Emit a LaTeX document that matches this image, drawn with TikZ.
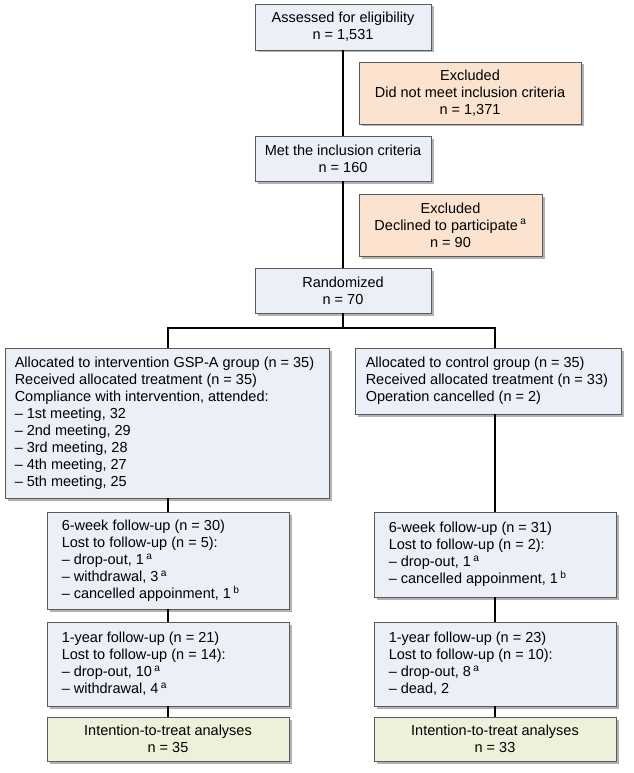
\documentclass[tikz,border=0pt]{standalone}
\usepackage{fontspec}
\setmainfont{Liberation Sans}
\usetikzlibrary{shadows}
\definecolor{boxblue}{HTML}{EAEFF8}
\definecolor{boxorange}{HTML}{FBE3CF}
\definecolor{boxgreen}{HTML}{EEF0D9}
\definecolor{bordergray}{HTML}{5A5A5A}
\tikzset{
  box/.style={draw=bordergray, line width=0.9pt, fill=boxblue, inner sep=0pt,
    drop shadow={shadow xshift=2.5pt, shadow yshift=-2.5pt, fill=black, opacity=0.3},
    font=\fontsize{14.5}{17}\selectfont},
  cbox/.style={box, align=center},
  txt/.style={anchor=west, align=left, inner sep=0pt, font=\fontsize{14.5}{17}\selectfont},
  conn/.style={line width=2.2pt, black}
}
\newcommand{\sa}{\,\textsuperscript{a}}
\newcommand{\sbb}{\,\textsuperscript{b}}
\begin{document}
\begin{tikzpicture}[x=1pt,y=-1pt]
\useasboundingbox (0,0) rectangle (633,773);
% top column
\node[cbox, minimum width=176, minimum height=46] (assess) at (343,27) {Assessed for eligibility\\n = 1,531};
\node[cbox, fill=boxorange, minimum width=222, minimum height=62] (excl1) at (470,93) {Excluded\\Did not meet inclusion criteria\\n = 1,371};
\node[cbox, minimum width=176, minimum height=45] (met) at (343,158.5) {Met the inclusion criteria\\n = 160};
\node[cbox, fill=boxorange, minimum width=183, minimum height=62] (excl2) at (450.5,225) {Excluded\\Declined to participate\sa\\n = 90};
\node[cbox, minimum width=176, minimum height=45] (rand) at (343,290.5) {Randomized\\n = 70};
% allocation
\node[box, minimum width=324, minimum height=150] (lbig) at (167,423) {};
\node[txt] (lbigt) at ([xshift=10pt]lbig.west) {Allocated to intervention GSP-A group (n = 35)\\Received allocated treatment (n = 35)\\Compliance with intervention, attended:\\– 1st meeting, 32\\– 2nd meeting, 29\\– 3rd meeting, 28\\– 4th meeting, 27\\– 5th meeting, 25};
\node[box, minimum width=266, minimum height=66] (rtop) at (488,381) {};
\node[txt] (rtopt) at ([xshift=11pt]rtop.west) {Allocated to control group (n = 35)\\Received allocated treatment (n = 33)\\Operation cancelled (n = 2)};
% follow-up
\node[box, minimum width=242, minimum height=97] (l6) at (168,560.5) {};
\node[txt] (l6t) at ([xshift=15pt]l6.west) {6-week follow-up (n = 30)\\Lost to follow-up (n = 5):\\– drop-out, 1\sa\\– withdrawal, 3\sa\\– cancelled appoinment, 1\sbb};
\node[box, minimum width=242, minimum height=85] (r6) at (495,554.5) {};
\node[txt] (r6t) at ([xshift=15pt]r6.west) {6-week follow-up (n = 31)\\Lost to follow-up (n = 2):\\– drop-out, 1\sa\\– cancelled appoinment, 1\sbb};
\node[box, minimum width=242, minimum height=84] (l1) at (168,664) {};
\node[txt] (l1t) at ([xshift=15pt]l1.west) {1-year follow-up (n = 21)\\Lost to follow-up (n = 14):\\– drop-out, 10\sa\\– withdrawal, 4\sa};
\node[box, minimum width=242, minimum height=84] (r1) at (495,664) {};
\node[txt] (r1t) at ([xshift=15pt]r1.west) {1-year follow-up (n = 23)\\Lost to follow-up (n = 10):\\– drop-out, 8\sa\\– dead, 2};
\node[cbox, fill=boxgreen, minimum width=242, minimum height=44] (litt) at (168,739) {Intention-to-treat analyses\\n = 35};
\node[cbox, fill=boxgreen, minimum width=242, minimum height=44] (ritt) at (495,739) {Intention-to-treat analyses\\n = 33};
% connectors
\coordinate (bar) at (343,328);
\draw[conn] (assess.south) -- (met.north);
\draw[conn] (met.south) -- (rand.north);
\draw[conn] (rand.south) -- (bar);
\draw[conn] (l6.north |- lbig.north) -- (l6.north |- bar) -- (r6.north |- bar) -- (r6.north |- rtop.north);
\draw[conn] (l6.north |- lbig.south) -- (l6.north);
\draw[conn] (r6.north |- rtop.south) -- (r6.north);
\draw[conn] (l6.south) -- (l1.north);
\draw[conn] (l1.south) -- (litt.north);
\draw[conn] (r6.south) -- (r1.north);
\draw[conn] (r1.south) -- (ritt.north);
\end{tikzpicture}
\end{document}
